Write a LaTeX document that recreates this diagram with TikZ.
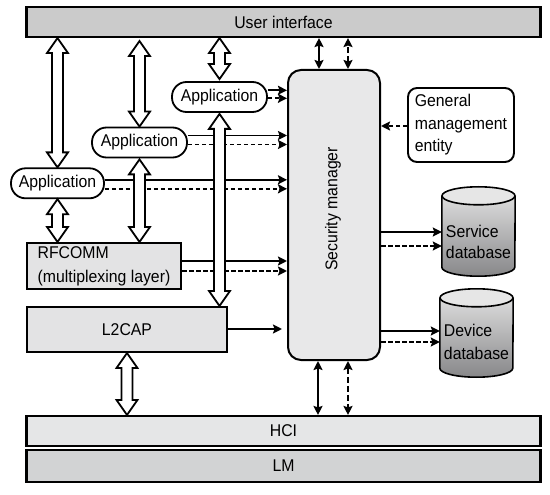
\documentclass[tikz,border=0pt]{standalone}
\usepackage{fontspec}
\setmainfont[FakeStretch=0.93]{Liberation Sans}
\usetikzlibrary{arrows.meta,calc}
\definecolor{uigray}{RGB}{203,203,203}
\definecolor{hcigray}{RGB}{229,230,231}
\definecolor{lmgray}{RGB}{210,211,212}
\definecolor{smgray}{RGB}{232,232,233}
\definecolor{laygray}{RGB}{227,227,228}
\definecolor{dbtop}{RGB}{230,230,230}
\definecolor{dbbot}{RGB}{135,135,137}
\newcommand{\hollowarr}[2]{%
  \draw[hollow] let \p1=(#1), \p2=(#2) in
   (\x1,\y1) -- (\x1+10.5pt,\y1-15pt) -- (\x1+5.5pt,\y1-15pt) -- (\x1+5.5pt,\y2+15pt)
   -- (\x1+10.5pt,\y2+15pt) -- (\x1,\y2) -- (\x1-10.5pt,\y2+15pt) -- (\x1-5.5pt,\y2+15pt)
   -- (\x1-5.5pt,\y1-15pt) -- (\x1-10.5pt,\y1-15pt) -- cycle;}
\newcommand{\harr}[4]{\draw[#1] ($(#2)+(0,#4)$) -- ($(#2 -| #3)+(0,#4)$);}
\newcommand{\harrb}[4]{\draw[#1] ($(#2 -| #3)+(0,#4)$) -- ($(#2)+(0,#4)$);}
\newcommand{\cyl}[3]{% node, x radius, y radius
  \shade[top color=dbtop, bottom color=dbbot]
    ($(#1.north west)+(0,-#3)$) -- ($(#1.south west)+(0,#3)$)
    arc[start angle=180,end angle=360,x radius=#2,y radius=#3]
    -- ($(#1.north east)+(0,-#3)$)
    arc[start angle=0,end angle=180,x radius=#2,y radius=#3] -- cycle;
  \draw[line width=1.6pt]
    ($(#1.north west)+(0,-#3)$) -- ($(#1.south west)+(0,#3)$)
    arc[start angle=180,end angle=360,x radius=#2,y radius=#3]
    -- ($(#1.north east)+(0,-#3)$);
  \draw[line width=1.6pt, fill=dbtop] ($(#1.north)+(0,-#3)$) ellipse[x radius=#2,y radius=#3];}
\tikzset{
  every node/.style={font=\fontsize{17}{22}\selectfont, inner sep=0pt},
  bar/.style={draw, line width=2.1pt, minimum width=514pt},
  layer/.style={draw, line width=2.1pt, fill=laygray},
  pill/.style={draw, line width=1.8pt, rounded corners=14.5pt, minimum width=95pt, minimum height=30pt, fill=white},
  tipx/.tip={Stealth[length=9pt,width=9pt,inset=1.5pt]},
  sarr/.style={line width=1.9pt, -tipx},
  darr/.style={sarr, dash pattern=on 4.5pt off 2.5pt},
  sdbl/.style={line width=1.9pt, tipx-tipx},
  ddbl/.style={sdbl, dash pattern=on 6pt off 3pt},
  hollow/.style={draw, fill=white, line width=1.8pt, line join=miter},
}
\begin{document}
\begin{tikzpicture}[x=1pt,y=1pt]
\useasboundingbox (0,0) rectangle (550,-495);
% layers
\node[bar, fill=uigray, minimum height=30pt] (ui) at (283.5,-22) {User interface};
\node[bar, fill=hcigray, minimum height=30pt] (hci) at (283.5,-431) {HCI};
\node[bar, fill=lmgray, minimum height=32pt] (lm) at (283.5,-466) {LM};
% security manager
\node[draw, line width=2pt, rounded corners=13pt, fill=smgray, minimum width=92pt, minimum height=290pt] (sm) at (334,-215) {};
\node[rotate=90] (smlabel) at (333,-209) {Security manager};
% general management entity
\node[draw, line width=1.9pt, rounded corners=9pt, minimum width=106pt, minimum height=74pt, align=left, font=\fontsize{17}{22.5}\selectfont] (gme) at (461,-125) {General\\management\\entity};
% applications
\node[pill] (app1) at (219.5,-97) {Application};
\node[pill] (app2) at (139.5,-142.5) {Application};
\node[pill, minimum width=93pt] (app3) at (57.5,-183.3) {Application};
% RFCOMM, L2CAP
\node[layer, minimum width=154pt, minimum height=46pt, align=left, font=\fontsize{17}{24}\selectfont] (rf) at (104,-266) {RFCOMM\\(multiplexing layer)};
\node[layer, minimum width=200pt, minimum height=45pt] (l2cap) at (127,-329.5) {L2CAP};
% databases
\node[minimum width=73pt, minimum height=89pt] (svc) at (478.5,-231.5) {};
\node[minimum width=73pt, minimum height=88pt] (dev) at (476.5,-333) {};
\cyl{svc}{36.5}{9}
\cyl{dev}{36.5}{9}
\node[align=left, font=\fontsize{17}{21}\selectfont] (svctext) at (478.5,-242) {Service\\database};
\node[align=left, font=\fontsize{17}{23}\selectfont] (devtext) at (476.5,-342) {Device\\database};
% arrows into the security manager
\harr{sarr}{app1.east}{sm.west}{6.7}
\harr{darr}{app1.east}{sm.west}{-1.3}
\harr{sarr}{app2.east}{sm.west}{7}
\harr{darr}{app2.east}{sm.west}{-2}
\harr{sarr}{app3.east}{sm.west}{3.5}
\harr{darr}{app3.east}{sm.west}{-5.5}
\harr{sarr}{rf.east}{sm.west}{5}
\harr{darr}{rf.east}{sm.west}{-5}
\harr{sarr, shorten >=5pt}{l2cap.east}{sm.west}{0.5}
\harr{darr}{gme.west}{sm.east}{-1}
% arrows to databases
\harrb{sarr}{svc.west}{sm.east}{-0.5}
\harrb{darr}{svc.west}{sm.east}{-14.5}
\harrb{sarr}{dev.west}{sm.east}{2}
\harrb{darr}{dev.west}{sm.east}{-9}
% vertical small arrows
\draw[sdbl] ($(sm.north)+(-15,0)$) -- ($(ui.south -| sm.north)+(-15,0)$);
\draw[ddbl] ($(sm.north)+(14,0)$) -- ($(ui.south -| sm.north)+(14,0)$);
\draw[sdbl] ($(sm.south)+(-16,0)$) -- ($(hci.north -| sm.south)+(-16,0)$);
\draw[ddbl] ($(sm.south)+(14,0)$) -- ($(hci.north -| sm.south)+(14,0)$);
% hollow double arrows
\hollowarr{ui.south -| app3.north}{app3.north}
\hollowarr{$(ui.south -| app2.north)+(0,-3)$}{app2.north}
\hollowarr{ui.south -| app1.north}{$(app1.north)+(0,2)$}
\hollowarr{app3.south}{app3.south |- rf.north}
\hollowarr{$(app2.south)+(0,-1)$}{app2.south |- rf.north}
\hollowarr{$(app1.south)+(0,-1)$}{app1.south |- l2cap.north}
\hollowarr{l2cap.south}{l2cap.south |- hci.north}
\end{tikzpicture}
\end{document}
